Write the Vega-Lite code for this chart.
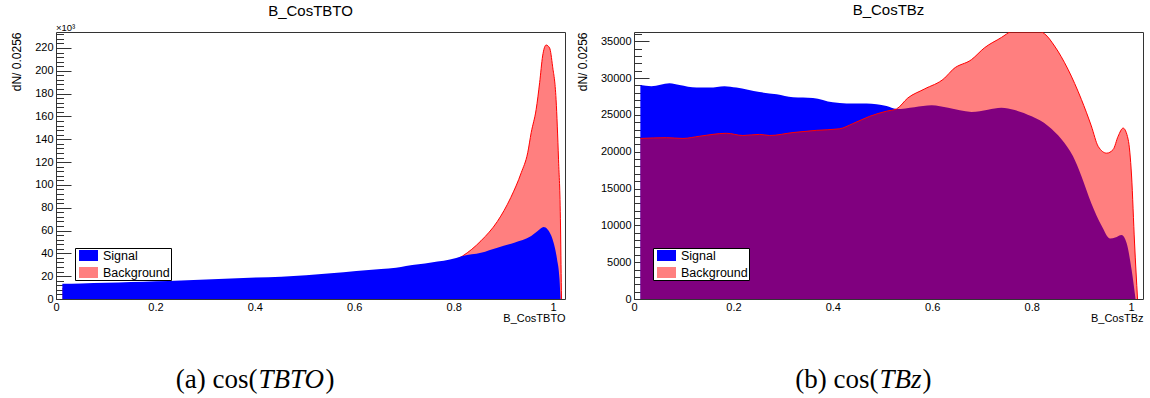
{
  "$schema": "https://vega.github.io/schema/vega-lite/v6.json",
  "background": "white",
  "padding": {"left": 9, "top": 2, "right": 0, "bottom": 0},
  "datasets": {
    "tbto": [
      {"series": "Signal", "x": 0.0128, "n": 13300},
      {"series": "Signal", "x": 0.0503, "n": 13600},
      {"series": "Signal", "x": 0.1006, "n": 14200},
      {"series": "Signal", "x": 0.151, "n": 14900},
      {"series": "Signal", "x": 0.201, "n": 15600},
      {"series": "Signal", "x": 0.2515, "n": 16300},
      {"series": "Signal", "x": 0.302, "n": 17100},
      {"series": "Signal", "x": 0.352, "n": 18000},
      {"series": "Signal", "x": 0.402, "n": 18800},
      {"series": "Signal", "x": 0.453, "n": 19600},
      {"series": "Signal", "x": 0.503, "n": 20800},
      {"series": "Signal", "x": 0.553, "n": 22500},
      {"series": "Signal", "x": 0.604, "n": 24600},
      {"series": "Signal", "x": 0.654, "n": 26400},
      {"series": "Signal", "x": 0.684, "n": 27400},
      {"series": "Signal", "x": 0.704, "n": 29000},
      {"series": "Signal", "x": 0.755, "n": 32000},
      {"series": "Signal", "x": 0.805, "n": 36000},
      {"series": "Signal", "x": 0.818, "n": 37700},
      {"series": "Signal", "x": 0.855, "n": 40600},
      {"series": "Signal", "x": 0.888, "n": 45000},
      {"series": "Signal", "x": 0.922, "n": 49400},
      {"series": "Signal", "x": 0.956, "n": 55200},
      {"series": "Signal", "x": 0.969, "n": 59600},
      {"series": "Signal", "x": 0.981, "n": 63000},
      {"series": "Signal", "x": 0.989, "n": 61000},
      {"series": "Signal", "x": 0.999, "n": 52300},
      {"series": "Signal", "x": 1.008, "n": 34800},
      {"series": "Signal", "x": 1.013, "n": 17300},
      {"series": "Signal", "x": 1.015, "n": 0},
      {"series": "Background", "x": 0.0128, "n": 9000},
      {"series": "Background", "x": 0.201, "n": 10000},
      {"series": "Background", "x": 0.402, "n": 12000},
      {"series": "Background", "x": 0.604, "n": 17000},
      {"series": "Background", "x": 0.704, "n": 23000},
      {"series": "Background", "x": 0.755, "n": 28500},
      {"series": "Background", "x": 0.805, "n": 34500},
      {"series": "Background", "x": 0.818, "n": 37700},
      {"series": "Background", "x": 0.855, "n": 51000},
      {"series": "Background", "x": 0.888, "n": 68000},
      {"series": "Background", "x": 0.915, "n": 89000},
      {"series": "Background", "x": 0.936, "n": 110700},
      {"series": "Background", "x": 0.949, "n": 128200},
      {"series": "Background", "x": 0.956, "n": 145800},
      {"series": "Background", "x": 0.966, "n": 166200},
      {"series": "Background", "x": 0.973, "n": 189600},
      {"series": "Background", "x": 0.979, "n": 213000},
      {"series": "Background", "x": 0.986, "n": 222600},
      {"series": "Background", "x": 0.993, "n": 220000},
      {"series": "Background", "x": 0.999, "n": 204000},
      {"series": "Background", "x": 1.006, "n": 175000},
      {"series": "Background", "x": 1.011, "n": 122000},
      {"series": "Background", "x": 1.015, "n": 64000},
      {"series": "Background", "x": 1.016, "n": 30000},
      {"series": "Background", "x": 1.017, "n": 0}
    ],
    "tbz": [
      {"series": "Signal", "x": 0.0128, "n": 29050},
      {"series": "Signal", "x": 0.035, "n": 28900},
      {"series": "Signal", "x": 0.0715, "n": 29300},
      {"series": "Signal", "x": 0.0915, "n": 29050},
      {"series": "Signal", "x": 0.126, "n": 28700},
      {"series": "Signal", "x": 0.152, "n": 28700},
      {"series": "Signal", "x": 0.182, "n": 28900},
      {"series": "Signal", "x": 0.206, "n": 28700},
      {"series": "Signal", "x": 0.2525, "n": 28100},
      {"series": "Signal", "x": 0.287, "n": 27800},
      {"series": "Signal", "x": 0.32, "n": 27400},
      {"series": "Signal", "x": 0.36, "n": 27300},
      {"series": "Signal", "x": 0.4, "n": 26700},
      {"series": "Signal", "x": 0.4275, "n": 26550},
      {"series": "Signal", "x": 0.468, "n": 26550},
      {"series": "Signal", "x": 0.508, "n": 26200},
      {"series": "Signal", "x": 0.528, "n": 25800},
      {"series": "Signal", "x": 0.564, "n": 26050},
      {"series": "Signal", "x": 0.599, "n": 26300},
      {"series": "Signal", "x": 0.632, "n": 25950},
      {"series": "Signal", "x": 0.679, "n": 25400},
      {"series": "Signal", "x": 0.712, "n": 25700},
      {"series": "Signal", "x": 0.739, "n": 25950},
      {"series": "Signal", "x": 0.766, "n": 25650},
      {"series": "Signal", "x": 0.8, "n": 24800},
      {"series": "Signal", "x": 0.833, "n": 23500},
      {"series": "Signal", "x": 0.86, "n": 21700},
      {"series": "Signal", "x": 0.883, "n": 19400},
      {"series": "Signal", "x": 0.9, "n": 16700},
      {"series": "Signal", "x": 0.92, "n": 13000},
      {"series": "Signal", "x": 0.941, "n": 9900},
      {"series": "Signal", "x": 0.958, "n": 8200},
      {"series": "Signal", "x": 0.968, "n": 8350},
      {"series": "Signal", "x": 0.981, "n": 8700},
      {"series": "Signal", "x": 0.991, "n": 7600},
      {"series": "Signal", "x": 1.001, "n": 4000},
      {"series": "Signal", "x": 1.009, "n": 0},
      {"series": "Background", "x": 0.0128, "n": 21800},
      {"series": "Background", "x": 0.0655, "n": 21900},
      {"series": "Background", "x": 0.0985, "n": 21800},
      {"series": "Background", "x": 0.132, "n": 22100},
      {"series": "Background", "x": 0.186, "n": 22500},
      {"series": "Background", "x": 0.219, "n": 22200},
      {"series": "Background", "x": 0.2525, "n": 22350},
      {"series": "Background", "x": 0.273, "n": 22200},
      {"series": "Background", "x": 0.32, "n": 22600},
      {"series": "Background", "x": 0.367, "n": 22900},
      {"series": "Background", "x": 0.413, "n": 23100},
      {"series": "Background", "x": 0.44, "n": 23800},
      {"series": "Background", "x": 0.474, "n": 24800},
      {"series": "Background", "x": 0.508, "n": 25500},
      {"series": "Background", "x": 0.528, "n": 25800},
      {"series": "Background", "x": 0.551, "n": 27300},
      {"series": "Background", "x": 0.584, "n": 28500},
      {"series": "Background", "x": 0.625, "n": 30000},
      {"series": "Background", "x": 0.642, "n": 31200},
      {"series": "Background", "x": 0.679, "n": 32500},
      {"series": "Background", "x": 0.705, "n": 34100},
      {"series": "Background", "x": 0.739, "n": 35500},
      {"series": "Background", "x": 0.76, "n": 36400},
      {"series": "Background", "x": 0.79, "n": 36900},
      {"series": "Background", "x": 0.826, "n": 36000},
      {"series": "Background", "x": 0.846, "n": 34350},
      {"series": "Background", "x": 0.873, "n": 31200},
      {"series": "Background", "x": 0.9, "n": 27100},
      {"series": "Background", "x": 0.92, "n": 23500},
      {"series": "Background", "x": 0.934, "n": 20700},
      {"series": "Background", "x": 0.951, "n": 19800},
      {"series": "Background", "x": 0.964, "n": 20300},
      {"series": "Background", "x": 0.974, "n": 22100},
      {"series": "Background", "x": 0.984, "n": 23200},
      {"series": "Background", "x": 0.994, "n": 21700},
      {"series": "Background", "x": 1.001, "n": 16700},
      {"series": "Background", "x": 1.007, "n": 7600},
      {"series": "Background", "x": 1.013, "n": 0}
    ]
  },
  "columns": 2,
  "spacing": {"row": 66, "column": 69},
  "bounds": "flush",
  "concat": [
    {
      "width": 509,
      "height": 267,
      "title": {"text": "B_CosTBTO", "offset": 4},
      "data": {"name": "tbto"},
      "layer": [
        {
          "transform": [{"filter": "datum.series === 'Background'"}],
          "mark": {"type": "area", "interpolate": "monotone", "clip": true},
          "encoding": {
            "x": {"field": "x", "type": "quantitative",
              "scale": {"domain": [0, 1.024], "nice": false, "zero": false},
              "axis": {"orient": "bottom", "values": [0, 0.2, 0.4, 0.6, 0.8, 1], "format": "~g",
                "tickSize": -8, "labelPadding": 10, "title": "B_CosTBTO", "titleFontSize": 11,
                "titleX": 509, "titleY": 22, "titleAlign": "right", "titleBaseline": "alphabetic"}},
            "y": {"field": "n", "type": "quantitative",
              "scale": {"domain": [0, 234000], "nice": false},
              "axis": {"orient": "left", "values": [0, 20000, 40000, 60000, 80000, 100000, 120000, 140000, 160000, 180000, 200000, 220000],
                "labelExpr": "datum.value / 1000", "tickSize": -15, "labelPadding": 18,
                "title": "dN/ 0.0256", "titleFontSize": 12, "titleX": -36, "titleY": 0,
                "titleAngle": 270, "titleAlign": "right", "titleBaseline": "alphabetic"}},
            "color": {"field": "series", "type": "nominal",
              "scale": {"domain": ["Signal", "Background"], "range": ["#0000ff", "#ff0000"]},
              "legend": {"title": null, "orient": "none", "legendX": 19, "legendY": 216,
                "symbolType": "M-1.46,-0.85H1.46V0.85H-1.46Z", "symbolSize": 169, "symbolStrokeWidth": 0,
                "symbolOffset": 6, "labelOffset": 8, "labelExpr": "datum.label + '\u00a0\u00a0\u00a0'",
                "labelFontSize": 12.5, "rowPadding": 4, "padding": 1,
                "strokeColor": "#000", "fillColor": "#fff"}},
            "opacity": {"field": "series", "type": "nominal",
              "scale": {"domain": ["Signal", "Background"], "range": [1, 0.5]},
              "legend": {"title": null, "orient": "none", "legendX": 19, "legendY": 216,
                "symbolType": "M-1.46,-0.85H1.46V0.85H-1.46Z", "symbolSize": 169, "symbolStrokeWidth": 0,
                "symbolOffset": 6, "labelOffset": 8, "labelExpr": "datum.label + '\u00a0\u00a0\u00a0'",
                "labelFontSize": 12.5, "rowPadding": 4, "padding": 1,
                "strokeColor": "#000", "fillColor": "#fff"}}
          }
        },
        {
          "transform": [{"filter": "datum.series === 'Background'"}],
          "mark": {"type": "line", "interpolate": "monotone", "clip": true, "color": "#ff0000", "strokeWidth": 1},
          "encoding": {
            "x": {"field": "x", "type": "quantitative",
              "axis": {"orient": "bottom", "values": [0.05, 0.1, 0.15, 0.25, 0.3, 0.35, 0.45, 0.5, 0.55, 0.65, 0.7, 0.75, 0.85, 0.9, 0.95],
                "labels": false, "tickSize": -4, "title": null}},
            "y": {"field": "n", "type": "quantitative",
              "axis": {"orient": "left", "values": [4000, 8000, 12000, 16000, 24000, 28000, 32000, 36000, 44000, 48000, 52000, 56000, 64000, 68000, 72000, 76000, 84000, 88000, 92000, 96000, 104000, 108000, 112000, 116000, 124000, 128000, 132000, 136000, 144000, 148000, 152000, 156000, 164000, 168000, 172000, 176000, 184000, 188000, 192000, 196000, 204000, 208000, 212000, 216000, 224000, 228000, 232000],
                "labels": false, "tickSize": -7.5, "title": null}}
          }
        },
        {
          "transform": [{"filter": "datum.series === 'Signal'"}],
          "mark": {"type": "area", "interpolate": "monotone", "clip": true},
          "encoding": {
            "x": {"field": "x", "type": "quantitative", "axis": null},
            "y": {"field": "n", "type": "quantitative", "axis": null},
            "color": {"field": "series", "type": "nominal"},
            "opacity": {"field": "series", "type": "nominal"}
          }
        },
        {
          "data": {"values": [{"label": "×10³"}]},
          "mark": {"type": "text", "align": "left", "baseline": "alphabetic", "dy": -1.5, "fontSize": 9.5, "color": "#000"},
          "encoding": {
            "x": {"datum": 0, "type": "quantitative", "axis": null},
            "y": {"datum": 234000, "type": "quantitative", "axis": null},
            "text": {"field": "label"}
          }
        }
      ],
      "resolve": {"axis": {"x": "independent", "y": "independent"}}
    },
    {
      "width": 509,
      "height": 267,
      "title": {"text": "B_CosTBz", "offset": 14},
      "data": {"name": "tbz"},
      "layer": [
        {
          "transform": [{"filter": "datum.series === 'Signal'"}],
          "mark": {"type": "area", "interpolate": "monotone", "clip": true},
          "encoding": {
            "x": {"field": "x", "type": "quantitative",
              "scale": {"domain": [0, 1.024], "nice": false, "zero": false},
              "axis": {"orient": "bottom", "values": [0, 0.2, 0.4, 0.6, 0.8, 1], "format": "~g",
                "tickSize": -8, "labelPadding": 10, "title": "B_CosTBz", "titleFontSize": 11,
                "titleX": 509, "titleY": 22, "titleAlign": "right", "titleBaseline": "alphabetic"}},
            "y": {"field": "n", "type": "quantitative",
              "scale": {"domain": [0, 36250], "nice": false},
              "axis": {"orient": "left", "values": [0, 5000, 10000, 15000, 20000, 25000, 30000, 35000],
                "format": "d", "tickSize": -15, "labelPadding": 18,
                "title": "dN/ 0.0256", "titleFontSize": 12, "titleX": -48, "titleY": 0,
                "titleAngle": 270, "titleAlign": "right", "titleBaseline": "alphabetic"}},
            "color": {"field": "series", "type": "nominal",
              "scale": {"domain": ["Signal", "Background"], "range": ["#0000ff", "#ff0000"]},
              "legend": {"title": null, "orient": "none", "legendX": 19, "legendY": 216,
                "symbolType": "M-1.46,-0.85H1.46V0.85H-1.46Z", "symbolSize": 169, "symbolStrokeWidth": 0,
                "symbolOffset": 6, "labelOffset": 8, "labelExpr": "datum.label + '\u00a0\u00a0\u00a0'",
                "labelFontSize": 12.5, "rowPadding": 4, "padding": 1,
                "strokeColor": "#000", "fillColor": "#fff"}},
            "opacity": {"field": "series", "type": "nominal",
              "scale": {"domain": ["Signal", "Background"], "range": [1, 0.5]},
              "legend": {"title": null, "orient": "none", "legendX": 19, "legendY": 216,
                "symbolType": "M-1.46,-0.85H1.46V0.85H-1.46Z", "symbolSize": 169, "symbolStrokeWidth": 0,
                "symbolOffset": 6, "labelOffset": 8, "labelExpr": "datum.label + '\u00a0\u00a0\u00a0'",
                "labelFontSize": 12.5, "rowPadding": 4, "padding": 1,
                "strokeColor": "#000", "fillColor": "#fff"}}
          }
        },
        {
          "transform": [{"filter": "datum.series === 'Background'"}],
          "mark": {"type": "area", "interpolate": "monotone", "clip": true},
          "encoding": {
            "x": {"field": "x", "type": "quantitative", "axis": null},
            "y": {"field": "n", "type": "quantitative", "axis": null},
            "color": {"field": "series", "type": "nominal"},
            "opacity": {"field": "series", "type": "nominal"}
          }
        },
        {
          "transform": [{"filter": "datum.series === 'Background'"}],
          "mark": {"type": "line", "interpolate": "monotone", "clip": true, "color": "#ff0000", "strokeWidth": 1},
          "encoding": {
            "x": {"field": "x", "type": "quantitative",
              "axis": {"orient": "bottom", "values": [0.05, 0.1, 0.15, 0.25, 0.3, 0.35, 0.45, 0.5, 0.55, 0.65, 0.7, 0.75, 0.85, 0.9, 0.95],
                "labels": false, "tickSize": -4, "title": null}},
            "y": {"field": "n", "type": "quantitative",
              "axis": {"orient": "left", "values": [1000, 2000, 3000, 4000, 6000, 7000, 8000, 9000, 11000, 12000, 13000, 14000, 16000, 17000, 18000, 19000, 21000, 22000, 23000, 24000, 26000, 27000, 28000, 29000, 31000, 32000, 33000, 34000, 36000],
                "labels": false, "tickSize": -7.5, "title": null}}
          }
        }
      ],
      "resolve": {"axis": {"x": "independent", "y": "independent"}}
    },
    {
      "width": 509,
      "height": 30,
      "view": {"stroke": null},
      "layer": [
        {
          "data": {"values": [{"caption": "(a) cos("}]},
          "mark": {"type": "text", "font": "Liberation Serif", "fontSize": 27, "align": "right", "dx": -53, "color": "#000"},
          "encoding": {"text": {"field": "caption"}}
        },
        {
          "data": {"values": [{"caption": "TBTO"}]},
          "mark": {"type": "text", "font": "Liberation Serif", "fontStyle": "italic", "fontSize": 27, "align": "left", "dx": -52, "color": "#000"},
          "encoding": {"text": {"field": "caption"}}
        },
        {
          "data": {"values": [{"caption": ")"}]},
          "mark": {"type": "text", "font": "Liberation Serif", "fontSize": 27, "align": "left", "dx": 15, "color": "#000"},
          "encoding": {"text": {"field": "caption"}}
        }
      ]
    },
    {
      "width": 509,
      "height": 30,
      "view": {"stroke": null},
      "layer": [
        {
          "data": {"values": [{"caption": "(b) cos("}]},
          "mark": {"type": "text", "font": "Liberation Serif", "fontSize": 27, "align": "right", "dx": -10, "color": "#000"},
          "encoding": {"text": {"field": "caption"}}
        },
        {
          "data": {"values": [{"caption": "TBz"}]},
          "mark": {"type": "text", "font": "Liberation Serif", "fontStyle": "italic", "fontSize": 27, "align": "left", "dx": -9, "color": "#000"},
          "encoding": {"text": {"field": "caption"}}
        },
        {
          "data": {"values": [{"caption": ")"}]},
          "mark": {"type": "text", "font": "Liberation Serif", "fontSize": 27, "align": "left", "dx": 34, "color": "#000"},
          "encoding": {"text": {"field": "caption"}}
        }
      ]
    }
  ],
  "resolve": {"scale": {"color": "independent", "opacity": "independent"}},
  "config": {
    "font": "Liberation Sans",
    "view": {"stroke": "#333", "strokeWidth": 1},
    "axis": {"domain": false, "grid": false, "labelFont": "Liberation Sans", "labelFontSize": 11,
      "labelColor": "#000", "labelFlush": false, "labelOverlap": false, "tickColor": "#333", "tickWidth": 1,
      "titleFont": "Liberation Sans", "titleFontWeight": "normal", "titleColor": "#000"},
    "title": {"font": "Liberation Sans", "fontSize": 15, "fontWeight": "normal", "color": "#000"},
    "legend": {"labelFont": "Liberation Sans", "labelColor": "#000"}
  }
}
